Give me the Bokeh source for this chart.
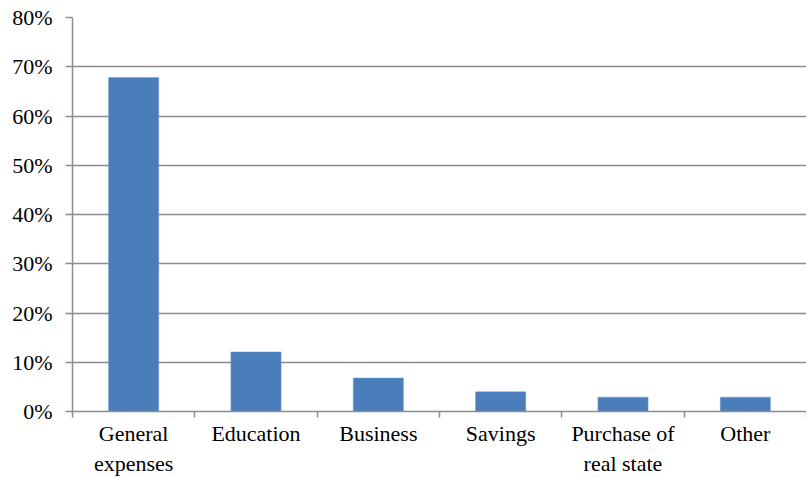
from bokeh.plotting import figure
from bokeh.models import FixedTicker, Range1d, ColumnDataSource, NumeralTickFormatter
from bokeh.embed import file_html
from bokeh.resources import INLINE

categories = ["General\nexpenses", "Education", "Business", "Savings", "Purchase of\nreal state", "Other"]
shares = [0.678, 0.121, 0.068, 0.040, 0.029, 0.029]
y_ticks = [0.0, 0.1, 0.2, 0.3, 0.4, 0.5, 0.6, 0.7, 0.8]

n = len(categories)
centers = [i + 0.5 for i in range(n)]
src = ColumnDataSource(dict(x=centers, top=shares))

p = figure(width=806, height=478, output_backend="svg", toolbar_location=None,
           x_range=Range1d(0, n), y_range=Range1d(0, 0.8),
           min_border_left=72, min_border_top=17, min_border_right=0, min_border_bottom=0)
p.outline_line_color = None
p.background_fill_color = "white"

p.vbar(x="x", top="top", width=0.41, bottom=0, source=src,
       fill_color="#4a7ebb", line_color="#6f9bd1", line_width=0.5)

font = "Times New Roman"
grey = "#8c8c8c"

# x axis
xa = p.xaxis[0]
xa.ticker = FixedTicker(ticks=centers, minor_ticks=list(range(n + 1)))
xa.major_label_overrides = {c: lab for c, lab in zip(centers, categories)}
xa.major_tick_line_color = None
xa.major_tick_out = 0
xa.minor_tick_out = 6
xa.minor_tick_in = 0
xa.minor_tick_line_color = grey
xa.minor_tick_line_width = 1.5
xa.axis_line_color = grey
xa.axis_line_width = 1.5
xa.major_label_text_font = font
xa.major_label_text_font_size = "22px"
xa.major_label_text_color = "black"
xa.major_label_standoff = 3

# y axis
ya = p.yaxis[0]
ya.ticker = FixedTicker(ticks=y_ticks)
ya.formatter = NumeralTickFormatter(format="0%")
ya.major_tick_out = 7
ya.major_tick_in = 0
ya.minor_tick_line_color = None
ya.major_tick_line_color = grey
ya.major_tick_line_width = 1.5
ya.axis_line_color = grey
ya.axis_line_width = 1.5
ya.major_label_text_font = font
ya.major_label_text_font_size = "22px"
ya.major_label_text_color = "black"
ya.major_label_standoff = 13

p.xgrid.grid_line_color = None
p.ygrid.ticker = FixedTicker(ticks=y_ticks)
p.ygrid.grid_line_color = grey
p.ygrid.grid_line_width = 1.5

p.renderers.insert(0, p.renderers.pop())

open("out.html", "w").write(file_html(p, INLINE))
